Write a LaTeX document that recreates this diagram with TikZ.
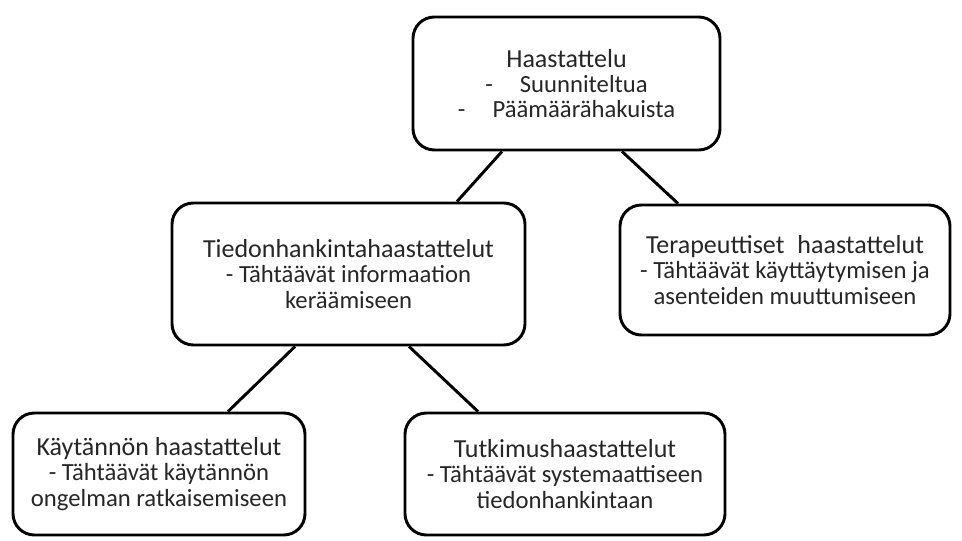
\documentclass[tikz,border=0pt]{standalone}
\usepackage{fontspec}
\setmainfont{Carlito}
\usetikzlibrary{calc}
\newcommand{\boxtitle}[1]{{\fontsize{19.5}{19}\selectfont #1}}

\begin{document}
\begin{tikzpicture}[
  x=0.75pt, y=-0.75pt,
  every node/.style={font=\fontsize{18.5}{19}\selectfont, text=black!85},
  ibox/.style={rectangle, rounded corners=16pt, draw=black, line width=2.2pt,
    fill=white, align=center, inner sep=0pt},
  link/.style={line width=2.2pt}
]
\useasboundingbox (0,0) rectangle (962,541);
\node[ibox, minimum width=230.25pt, minimum height=99.75pt] (n0) at (566.5,83.5)
  {\boxtitle{Haastattelu}\\-\hspace{1.1em}Suunniteltua\\-\hspace{1.1em}Päämäärähakuista};
\node[ibox, minimum width=264.75pt, minimum height=106.5pt] (n1) at (348.5,274)
  {\boxtitle{Tiedonhankintahaastattelut}\\- Tähtäävät informaation\\keräämiseen};
\node[ibox, minimum width=247.5pt, minimum height=97.5pt] (n2) at (785,270)
  {\boxtitle{Terapeuttiset\hspace{0.5em}haastattelut}\\- Tähtäävät käyttäytymisen ja\\asenteiden muuttumiseen};
\node[ibox, minimum width=219pt, minimum height=91.5pt] (n3) at (159,474)
  {\boxtitle{Käytännön haastattelut}\\- Tähtäävät käytännön\\ongelman ratkaisemiseen};
\node[ibox, minimum width=240pt, minimum height=91.5pt] (n4) at (565,474)
  {\boxtitle{Tutkimushaastattelut}\\- Tähtäävät systemaattiseen\\tiedonhankintaan};
\draw[link] ($(n0.south)+(-64.5,0)$) -- ($(n1.north)+(108.5,0)$);
\draw[link] ($(n0.south)+(55.5,0)$) -- ($(n2.north)+(-107,0)$);
\draw[link] ($(n1.south)+(-53.5,0)$) -- ($(n3.north)+(69,0)$);
\draw[link] ($(n1.south)+(60.5,0)$) -- ($(n4.north)+(-87,0)$);
\end{tikzpicture}
\end{document}
